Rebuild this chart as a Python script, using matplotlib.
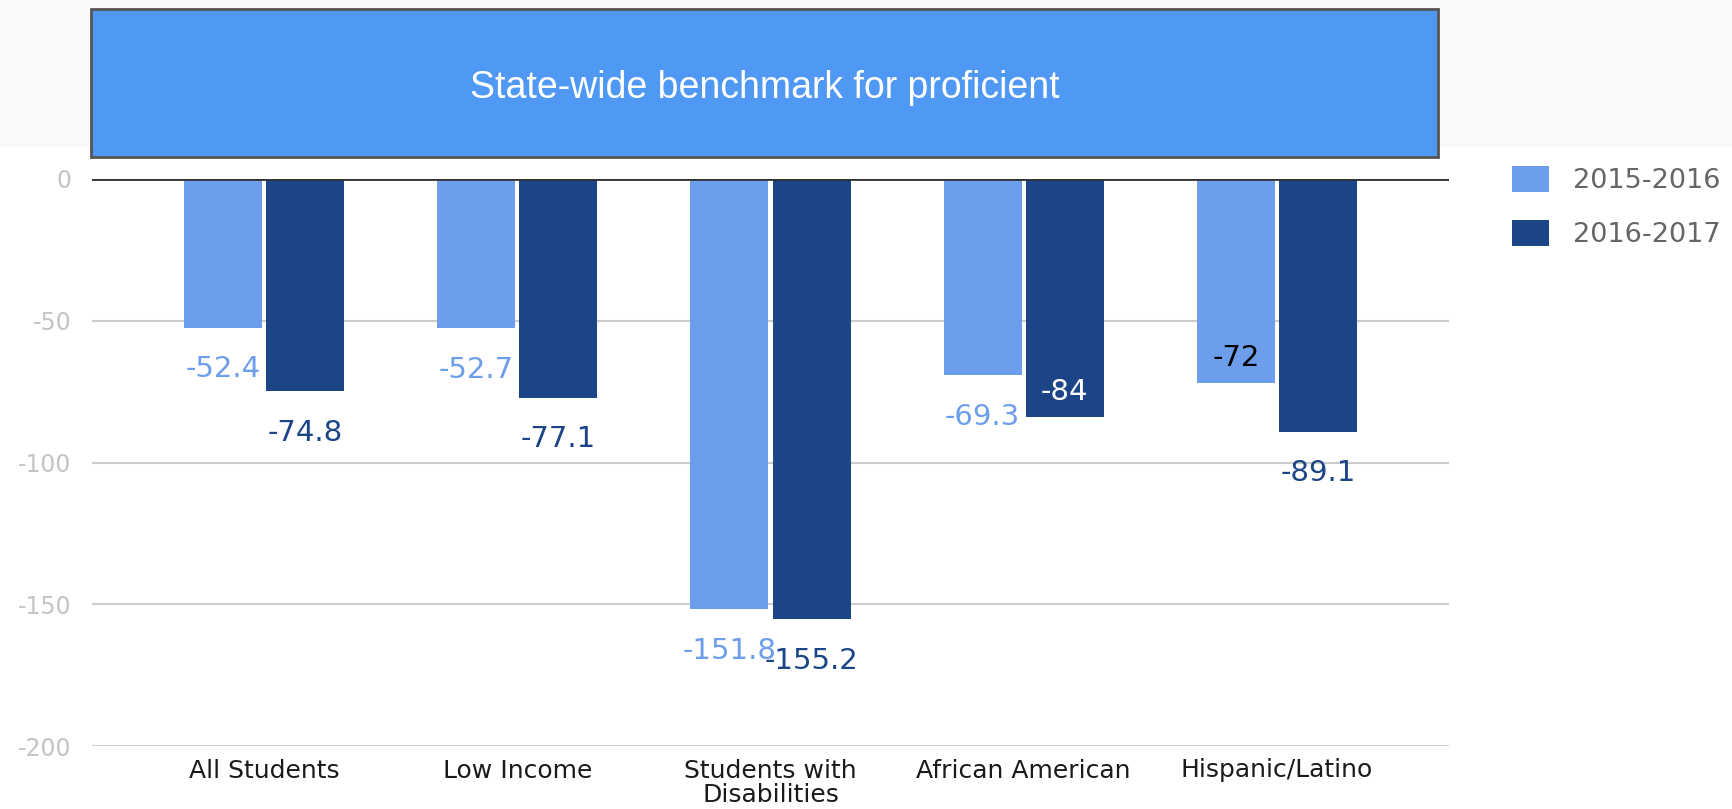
import matplotlib
matplotlib.use("Agg")
import matplotlib.pyplot as plt
import numpy as np
from matplotlib.patches import Rectangle

categories = ["All Students", "Low Income", "Students with\nDisabilities", "African American", "Hispanic/Latino"]
series_names = ["2015-2016", "2016-2017"]
vals_2015 = [-52.4, -52.7, -151.8, -69.3, -72.0]
vals_2016 = [-74.8, -77.1, -155.2, -84.0, -89.1]
labels_2015 = ["-52.4", "-52.7", "-151.8", "-69.3", "-72"]
labels_2016 = ["-74.8", "-77.1", "-155.2", "-84", "-89.1"]
yticks = [0, -50, -100, -150, -200]
banner_text = "State-wide benchmark for proficient"

# label placement: True means drawn inside the bar end
inside_2015 = [False, False, False, False, True]
inside_2016 = [False, False, False, True, False]

c_light = "#6d9eeb"
c_dark = "#1c4587"
FONT = "DejaVu Sans"

W, H = 1733, 809
fig = plt.figure(figsize=(W / 100, H / 100), dpi=100)
fig.patch.set_facecolor("white")

# light gray band at top
fig.patches.append(Rectangle((0, 1 - 147 / H), 1, 147 / H, transform=fig.transFigure,
                             facecolor="#f9f9f9", edgecolor="none", zorder=0))
# banner box
bx0, bx1, by0, by1 = 91, 1438, 9, 157
fig.patches.append(Rectangle((bx0 / W, 1 - by1 / H), (bx1 - bx0) / W, (by1 - by0) / H,
                             transform=fig.transFigure, facecolor="#4f99f5",
                             edgecolor="#555555", linewidth=2, zorder=1))
fig.text((bx0 + bx1) / 2 / W, 1 - 88 / H, banner_text, ha="center", va="center",
         color="white", fontsize=27, family="Liberation Sans", zorder=2)

ax = fig.add_axes([92 / W, 1 - 746 / H, 1357 / W, (746 - 179) / H])
x = np.arange(len(categories))
bw = 0.308
off = 0.162
b1 = ax.bar(x - off, vals_2015, bw, color=c_light, label=series_names[0], zorder=2)
b2 = ax.bar(x + off, vals_2016, bw, color=c_dark, label=series_names[1], zorder=2)

ax.set_xlim(-0.68, 4.68)
ax.set_ylim(-200, 0)
ax.set_yticks(yticks)
ax.set_yticklabels([str(t) for t in yticks])
ax.set_xticks(x)
ax.set_xticklabels(categories, family=FONT, fontsize=18, color="#1a1a1a", linespacing=1.05)
for s in ax.spines.values():
    s.set_visible(False)
ax.tick_params(axis="y", length=0, pad=15, labelsize=17, labelcolor="#c4c4c4")
ax.tick_params(axis="x", length=0, pad=9)
for lab in ax.get_yticklabels():
    lab.set_family(FONT)
ax.grid(axis="y", color="#cccccc", linewidth=1.5, zorder=0)
ax.axhline(0, color="#333333", linewidth=2, zorder=3)


def put_labels(xs, vals, labels, inside, color, inside_color):
    for xi, v, lab, ins in zip(xs, vals, labels, inside):
        dy = 18 if ins else -30
        ax.annotate(lab, (xi, v), xytext=(0, dy), textcoords="offset points",
                    ha="center", va="center", fontsize=21, family=FONT,
                    color=inside_color if ins else color, zorder=4)


put_labels(x - off, vals_2015, labels_2015, inside_2015, c_light, "black")
put_labels(x + off, vals_2016, labels_2016, inside_2016, c_dark, "white")

leg = fig.legend(handles=[b1, b2], labels=series_names, loc="upper left",
                 bbox_to_anchor=(1512 / W, 1 - 166 / H), frameon=False,
                 prop={"family": FONT, "size": 19.5}, handlelength=1.35,
                 handleheight=1.1, handletextpad=0.9, labelspacing=0.95,
                 borderpad=0, borderaxespad=0)
for t in leg.get_texts():
    t.set_color("#666666")

fig.savefig("out.png", dpi=100, facecolor=fig.get_facecolor())
